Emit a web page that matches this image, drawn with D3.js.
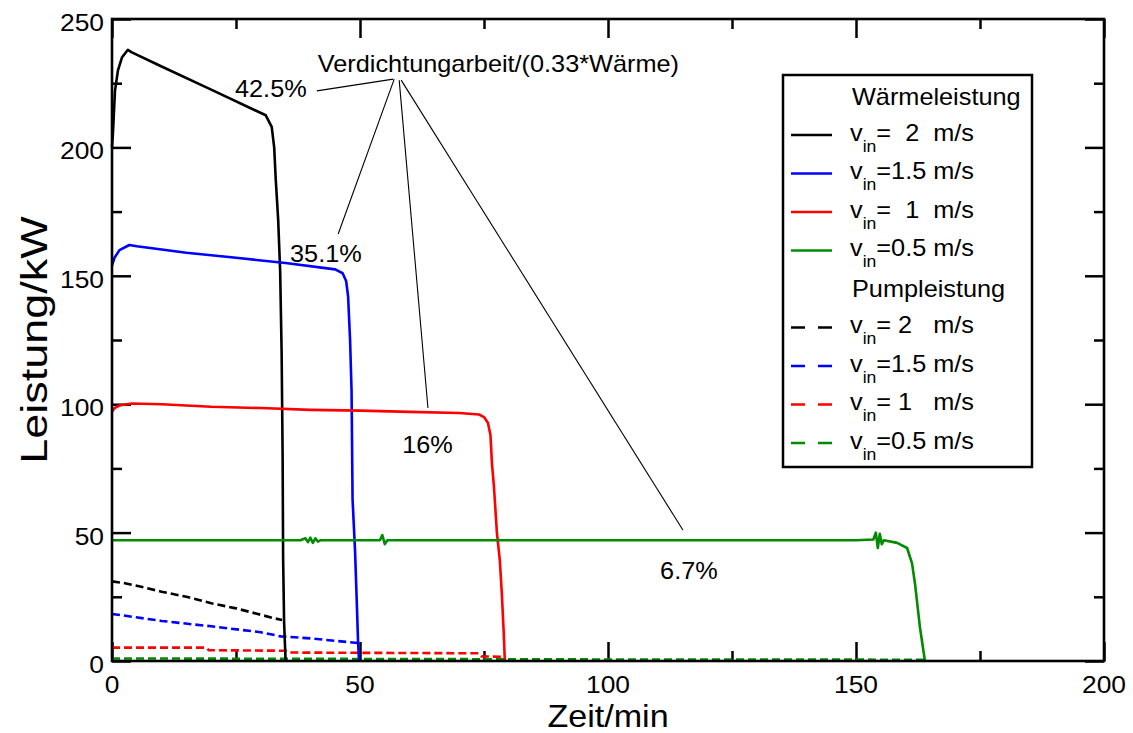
<!DOCTYPE html>
<html><head><meta charset="utf-8">
<script src="https://cdnjs.cloudflare.com/ajax/libs/d3/7.8.5/d3.min.js"></script>
<style>
html,body{margin:0;padding:0;background:#fff;}
text{font-family:"Liberation Sans",Arial,Helvetica,sans-serif;fill:#000;white-space:pre;}
</style></head>
<body>
<svg id="chart" width="1133" height="733"></svg>
<script>
// ---- data (time in min, power in kW) ----
const xTicksMajor = [0, 50, 100, 150, 200];
const yTicksMajor = [0, 50, 100, 150, 200, 250];
const xTicksMinor = [25, 75, 125, 175];
const yTicksMinor = [25, 75, 125, 175, 225];

const heat_v2 = [[0,200],[0.2,206],[0.6,222],[1.2,230],[2,235],[3.2,238],[4,237],[10,231.5],[20,222.5],[31,212.5],[32.2,208],[32.7,200],[33.0,188],[33.5,172],[33.9,152],[34.2,120],[34.4,80],[34.5,40],[34.7,15],[34.9,5],[35,0]];
const heat_v15 = [[0,154],[0.5,157],[1.5,160],[3.5,162],[5,161.5],[15,159],[25,157],[35,155],[45,152.5],[46.5,151],[47.2,148],[47.6,142],[48.0,125],[48.3,105],[48.5,63],[49,43],[49.4,20],[49.6,8],[49.8,0]];
const heat_v1 = [[0,97],[0.5,98.5],[1.5,99.5],[4,100.3],[10,100],[20,99],[30,98.5],[40,97.8],[50,97.5],[60,97],[70,96.6],[74,96],[75,95],[75.8,92.7],[76.3,88],[76.6,77],[77,68],[77.6,50],[78.2,39],[78.6,26],[79,10],[79.2,0]];
const heat_v05 = [[0,47],[20,47],[38,47],[39,47.8],[39.5,46.3],[40,48],[40.5,46],[41,47.8],[41.5,46.5],[42,47],[54,47],[54.5,49],[55,45.5],[55.5,47],[100,47],[150,47],[153.5,47.3],[154,50],[154.4,44],[154.8,49.5],[155.2,45.5],[155.6,47],[158.3,46],[160.3,44],[161.3,38],[161.9,30],[162.9,13],[163.9,0]];

const pump_v2 = [[0,31],[2,30.5],[5,29.3],[10,27],[15,25],[20,22.5],[25,20.5],[30,18],[33,16.5],[34.3,16]];
const pump_v15 = [[0,18.3],[2,17.8],[10,15.6],[20,13.5],[30,11.2],[34,9.6],[40,8.8],[49.5,7]];
const pump_v1 = [[0,5.2],[19,5.2],[19.5,4.2],[35,4],[35.5,3.3],[74,3],[74.5,1.8],[79,1.6]];
const pump_v05 = [[0,1],[50,0.8],[100,0.6],[164,0.5]];

const seriesColors = ["#000000", "#0000ff", "#ff0000", "#008b00"];
const heatSeries = [heat_v2, heat_v15, heat_v1, heat_v05];
const pumpSeries = [pump_v2, pump_v15, pump_v1, pump_v05];

// legend labels (after "v" + subscript "in")
const legendHeat = ["=  2  m/s", "=1.5 m/s", "=  1  m/s", "=0.5 m/s"];
const legendPump = ["= 2   m/s", "=1.5 m/s", "= 1   m/s", "=0.5 m/s"];

// annotation (data coords)
const annoTitle = {t: 41.5, v: 229.3, text: "Verdichtungarbeit/(0.33*Wärme)"};
const annoLabels = [
  {t: 24.8, v: 219.6, text: "42.5%"},
  {t: 35.9, v: 155.4, text: "35.1%"},
  {t: 58.5, v: 81, text: "16%"},
  {t: 110.5, v: 31.9, text: "6.7%"}
];
const annoLines = [
  [[56.7, 226.6], [41.3, 222]],
  [[56.9, 226.6], [45.6, 166.3]],
  [[57.9, 226.2], [63.7, 98.5]],
  [[58.3, 226.2], [115.1, 51]]
];

// ---- layout ----
const L = 112, R = 1104, T = 19, B = 661;
const SX = 1.1; // horizontal text stretch
const svg = d3.select("#chart");
const x = d3.scaleLinear().domain([0, 200]).range([L, R]);
const y = d3.scaleLinear().domain([0, 250]).range([B, T]);

function txt(g, px, py, str, size, anchor, sx) {
  return g.append("text")
    .attr("transform", `translate(${px},${py}) scale(${sx || SX},1)`)
    .attr("font-size", size)
    .attr("text-anchor", anchor || "start")
    .text(str);
}

// axes with inward ticks (bottom/left/top/right)
const MAJ = 19, MIN = 10;
function styleAxis(g){ g.select(".domain").remove(); g.selectAll("line").attr("stroke","#000").attr("stroke-width",2.5); g.selectAll("text").remove(); }
svg.append("g").attr("transform",`translate(0,${B})`).call(d3.axisBottom(x).tickValues(xTicksMajor).tickSizeInner(-MAJ).tickSizeOuter(0)).call(styleAxis);
svg.append("g").attr("transform",`translate(0,${B})`).call(d3.axisBottom(x).tickValues(xTicksMinor).tickSizeInner(-MIN).tickSizeOuter(0)).call(styleAxis);
svg.append("g").attr("transform",`translate(0,${T})`).call(d3.axisTop(x).tickValues(xTicksMajor).tickSizeInner(-MAJ).tickSizeOuter(0)).call(styleAxis);
svg.append("g").attr("transform",`translate(0,${T})`).call(d3.axisTop(x).tickValues(xTicksMinor).tickSizeInner(-MIN).tickSizeOuter(0)).call(styleAxis);
svg.append("g").attr("transform",`translate(${L},0)`).call(d3.axisLeft(y).tickValues(yTicksMajor).tickSizeInner(-MAJ).tickSizeOuter(0)).call(styleAxis);
svg.append("g").attr("transform",`translate(${L},0)`).call(d3.axisLeft(y).tickValues(yTicksMinor).tickSizeInner(-MIN).tickSizeOuter(0)).call(styleAxis);
svg.append("g").attr("transform",`translate(${R},0)`).call(d3.axisRight(y).tickValues(yTicksMajor).tickSizeInner(-MAJ).tickSizeOuter(0)).call(styleAxis);
svg.append("g").attr("transform",`translate(${R},0)`).call(d3.axisRight(y).tickValues(yTicksMinor).tickSizeInner(-MIN).tickSizeOuter(0)).call(styleAxis);

// tick labels
const tl = svg.append("g");
xTicksMajor.forEach(d => txt(tl, x(d), 693, String(d), 24, "middle"));
yTicksMajor.forEach(d => txt(tl, 104, y(d) + 12, String(d), 24, "end"));

// axis titles
txt(svg, 608, 727, "Zeit/min", 31, "middle");
svg.append("text").attr("transform","translate(47,340) rotate(-90) scale(1.25,1)")
  .attr("font-size", 36).attr("text-anchor","middle").text("Leistung/kW");

// lines
const line = d3.line().x(d => x(d[0])).y(d => y(d[1]));
const plot = svg.append("g");
pumpSeries.forEach((s,i) => plot.append("path").datum(s).attr("d", line)
  .attr("fill","none").attr("stroke", seriesColors[i]).attr("stroke-width", 2.6)
  .attr("stroke-dasharray","8,4"));
heatSeries.forEach((s,i) => plot.append("path").datum(s).attr("d", line)
  .attr("fill","none").attr("stroke", seriesColors[i]).attr("stroke-width", 2.6)
  .attr("stroke-linejoin","round"));

// frame
svg.append("rect").attr("x", L).attr("y", T).attr("width", R-L).attr("height", B-T)
  .attr("fill","none").attr("stroke","#000").attr("stroke-width",2.6);

// annotation
const an = svg.append("g");
annoLines.forEach(l => an.append("line")
  .attr("x1", x(l[0][0])).attr("y1", y(l[0][1])).attr("x2", x(l[1][0])).attr("y2", y(l[1][1]))
  .attr("stroke","#000").attr("stroke-width",1.1));
txt(an, x(annoTitle.t), y(annoTitle.v), annoTitle.text, 23, "start");
annoLabels.forEach(a => txt(an, x(a.t), y(a.v), a.text, 23, "start"));

// legend
const lg = svg.append("g");
const LX0 = 783, LX1 = 1032, LY0 = 75, LY1 = 467;
lg.append("rect").attr("x", LX0).attr("y", LY0).attr("width", LX1-LX0).attr("height", LY1-LY0)
  .attr("fill","#fff").attr("stroke","#000").attr("stroke-width",2.5);
const rowY = i => 96.5 + 38.5 * i;
txt(lg, 852, rowY(0) + 8, "Wärmeleistung", 23, "start");
txt(lg, 852, rowY(5) + 8, "Pumpleistung", 23, "start");
function legRow(i, color, dashed, label) {
  const yy = rowY(i);
  lg.append("line").attr("x1", 791).attr("x2", 832).attr("y1", yy).attr("y2", yy)
    .attr("stroke", color).attr("stroke-width", 2.6).attr("stroke-dasharray", dashed ? "14,13" : null);
  const t = lg.append("text").attr("transform", `translate(850,${yy+5.5}) scale(${SX},1)`).attr("font-size", 23);
  t.append("tspan").text("v");
  t.append("tspan").attr("font-size", 16).attr("dy", 11).text("in");
  t.append("tspan").attr("dy", -11).text(label);
}
legendHeat.forEach((lab, k) => legRow(1 + k, seriesColors[k], false, lab));
legendPump.forEach((lab, k) => legRow(6 + k, seriesColors[k], true, lab));
</script>
</body></html>
